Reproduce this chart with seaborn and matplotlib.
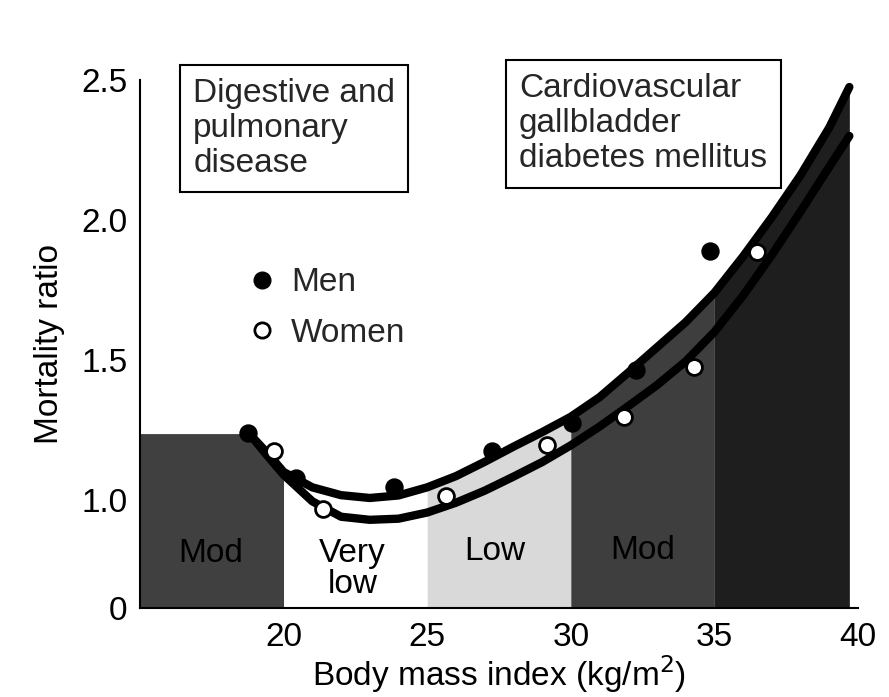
import matplotlib
import matplotlib.pyplot as plt
from matplotlib.lines import Line2D
import seaborn as sns

matplotlib.use('Agg')

# fitted curves
curve_x = [18.8, 19.5, 20, 21, 22, 23, 24, 25, 26, 27, 28, 29, 30, 31, 32, 33, 34, 35, 36, 37, 38, 39, 39.7]
men_curve = [1.237, 1.16, 1.10, 1.045, 1.017, 1.007, 1.016, 1.045, 1.085, 1.136, 1.19, 1.242, 1.297,
             1.367, 1.455, 1.545, 1.635, 1.74, 1.87, 2.01, 2.16, 2.33, 2.475]
women_curve = [1.237, 1.15, 1.09, 0.995, 0.94, 0.929, 0.933, 0.955, 0.99, 1.033, 1.083, 1.135, 1.195,
               1.262, 1.335, 1.41, 1.495, 1.60, 1.73, 1.875, 2.03, 2.19, 2.30]

# observed points
men_x = [18.76, 20.43, 23.84, 27.26, 30.04, 32.27, 34.85]
men_y = [1.239, 1.079, 1.046, 1.175, 1.275, 1.464, 1.889]
women_x = [19.67, 21.37, 25.65, 29.17, 31.85, 34.29, 36.48]
women_y = [1.175, 0.968, 1.014, 1.196, 1.296, 1.475, 1.886]

# risk zones along BMI
zone_edges = [15, 20, 25, 30, 35, 40]
zone_labels = ["Mod", "Very\nlow", "Low", "Mod", ""]
zone_colors = ["#404040", "#ffffff", "#d9d9d9", "#3e3e3e", "#1e1e1e"]
zone_plateau = 1.237  # flat top of the leftmost zone

y_ticks = [0.614, 1.0, 1.5, 2.0, 2.5]
y_tick_labels = ["0", "1.0", "1.5", "2.0", "2.5"]
x_ticks = [20, 25, 30, 35, 40]

FS = 24

sns.set_theme(style="white")
plt.rcParams['font.family'] = ['Liberation Sans', 'DejaVu Sans']

fig = plt.figure(figsize=(8.89, 6.97), dpi=100)
ax = fig.add_axes([0.1575, 0.1277, 0.8076, 0.7575])

# shaded zones, topped by the men's curve
for i, (lo, hi) in enumerate(zip(zone_edges[:-1], zone_edges[1:])):
    xs = [x for x in curve_x if lo <= x <= hi]
    ys = [y for x, y in zip(curve_x, men_curve) if lo <= x <= hi]
    if i == 0:
        xs = [lo] + xs
        ys = [zone_plateau] + ys
    ax.fill_between(xs, 0, ys, color=zone_colors[i], lw=0, zorder=1)

label_pos = [(17.45, 0.81), (22.4, 0.755), (27.35, 0.815), (32.5, 0.82), (37.5, 0.8)]
for (lx, ly), lab in zip(label_pos, zone_labels):
    ax.text(lx, ly, lab, ha="center", va="center", fontsize=FS, color="black",
            linespacing=1.0, zorder=2)

sns.lineplot(x=curve_x, y=men_curve, color="black", lw=6, ax=ax, zorder=3,
             estimator=None, sort=False, solid_capstyle="round")
sns.lineplot(x=curve_x, y=women_curve, color="black", lw=6, ax=ax, zorder=3,
             estimator=None, sort=False, solid_capstyle="round")

sns.scatterplot(x=men_x, y=men_y, s=150, color="black", edgecolor="black", ax=ax, zorder=4)
sns.scatterplot(x=women_x, y=women_y, s=130, color="white", edgecolor="black",
                linewidth=2, ax=ax, zorder=4)

handles = [Line2D([], [], ls="none", marker="o", ms=12, mfc="black", mec="black"),
           Line2D([], [], ls="none", marker="o", ms=11, mfc="white", mec="black", mew=2)]
ax.legend(handles, ["Men", "Women"], loc="upper left", bbox_to_anchor=(0.152, 0.645),
          frameon=False, fontsize=FS, handlelength=0.8, handletextpad=0.45,
          labelspacing=0.58, borderpad=0, borderaxespad=0)

box = dict(boxstyle="square,pad=0.4", fc="white", ec="black", lw=1.5)
ax.text(0.074, 1.004, "Digestive and\npulmonary\ndisease", transform=ax.transAxes,
        ha="left", va="top", fontsize=FS, linespacing=1.17, bbox=box, clip_on=False)
ax.text(0.528, 1.013, "Cardiovascular\ngallbladder\ndiabetes mellitus", transform=ax.transAxes,
        ha="left", va="top", fontsize=FS, linespacing=1.17, bbox=box, clip_on=False)

ax.set_xlim(15, 40)
ax.set_ylim(y_ticks[0], 2.5)
ax.set_xticks(x_ticks)
ax.set_yticks(y_ticks)
ax.set_yticklabels(y_tick_labels)
ax.tick_params(axis="both", direction="in", length=16, width=1.5, color="black",
               labelsize=FS, labelcolor="black")
ax.tick_params(axis="x", pad=10)
ax.tick_params(axis="y", pad=9)

ax.set_xlabel("Body mass index (kg/m$^2$)", fontsize=FS, color="black", labelpad=0)
ax.set_ylabel("Mortality ratio", fontsize=FS, color="black", labelpad=12)

for side in ["top", "right"]:
    ax.spines[side].set_visible(False)
for side in ["left", "bottom"]:
    ax.spines[side].set_color("black")
    ax.spines[side].set_linewidth(1.5)
ax.patch.set_alpha(0)

fig.savefig("out.png", dpi=100)
plt.close(fig)
